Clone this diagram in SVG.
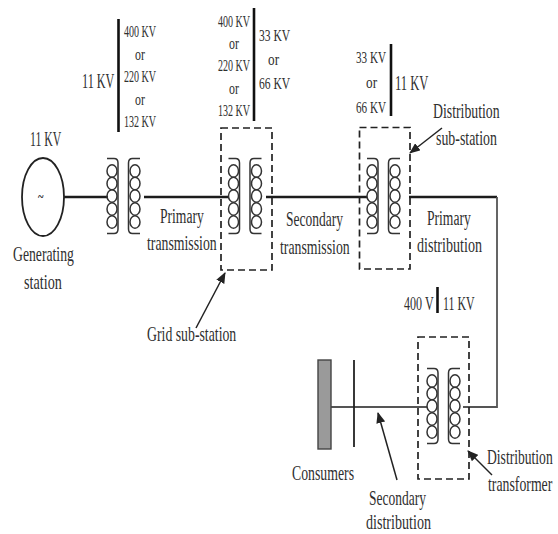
<svg xmlns="http://www.w3.org/2000/svg" width="558" height="534" viewBox="0 0 558 534">
<style>
text{font-family:"Liberation Serif","Times New Roman",serif;fill:#2f2f2f;font-size:20px;text-anchor:start}
.s{font-size:17px}
.m{font-size:18px}
.w{fill:none;stroke:#1c1c1c;stroke-width:2.4}
.g{fill:none;stroke:#555;stroke-width:1.8}
.bar{stroke:#111;stroke-width:2.6;fill:none}
.box{fill:none;stroke:#222;stroke-width:1.7;stroke-dasharray:7 4}
.c{fill:none;stroke:#333;stroke-width:1.5}
.a{fill:none;stroke:#222;stroke-width:1.5}
</style>
<defs>
<marker id="ah" markerWidth="11" markerHeight="9" refX="10" refY="4.5" orient="auto" markerUnits="userSpaceOnUse"><path d="M0,0L11,4.5L0,9z" fill="#222"/></marker>
<g id="coilL" class="c">
<path d="M107,158.500H114Q118,158.500 118,163V229Q118,233.500 114,233.500H107"/>
<ellipse cx="112" cy="171" rx="5" ry="6.200"/><ellipse cx="112" cy="183.500" rx="5" ry="6.200"/><ellipse cx="112" cy="196" rx="5" ry="6.200"/><ellipse cx="112" cy="209" rx="5" ry="6.200"/><ellipse cx="112" cy="222" rx="5" ry="6.200"/>
</g>
<g id="coilR" class="c">
<path d="M140,158.500H132.500Q128.500,158.500 128.500,163V229Q128.500,233.500 132.500,233.500H140"/>
<ellipse cx="135" cy="171" rx="5" ry="6.200"/><ellipse cx="135" cy="183.500" rx="5" ry="6.200"/><ellipse cx="135" cy="196" rx="5" ry="6.200"/><ellipse cx="135" cy="209" rx="5" ry="6.200"/><ellipse cx="135" cy="222" rx="5" ry="6.200"/>
</g>
</defs>

<g id="connectors">
<path class="w" d="M64,197H108"/>
<path class="w" d="M144,197H229"/>
<path class="w" d="M266,197H367"/>
<path class="w" d="M409,197H497"/>
<path class="g" d="M497,197V407H463"/>
<path class="g" d="M331,407H427"/>
<path class="a" marker-end="url(#ah)" d="M196,328L225,273"/>
<path class="a" marker-end="url(#ah)" d="M442,128L410,153"/>
<path class="a" marker-end="url(#ah)" d="M397,480L378,413"/>
<path class="a" marker-end="url(#ah)" d="M492,475L468,451"/>
</g>

<g id="generator">
<ellipse cx="43" cy="197" rx="21" ry="39" fill="#fff" stroke="#222" stroke-width="1.800"/>
<text transform="translate(38 202) scale(.75 1)" style="font-size:14px;font-weight:bold">~</text>
<text transform="translate(30 146) scale(.59 1)">11 KV</text>
<text transform="translate(13 261) scale(.686 1)">Generating</text>
<text transform="translate(24 289) scale(.71 1)">station</text>
</g>

<g id="step-up-transformer">
<use href="#coilL"/><use href="#coilR"/>
<path class="bar" d="M118.500,19V132"/>
<text transform="translate(82 88) scale(.61 1)">11 KV</text>
<text transform="translate(124 37) scale(.59 1)" class="s">400 KV</text>
<text transform="translate(135 60) scale(.7 1)" class="s">or</text>
<text transform="translate(124 82) scale(.59 1)" class="s">220 KV</text>
<text transform="translate(135 105) scale(.7 1)" class="s">or</text>
<text transform="translate(124 127) scale(.59 1)" class="s">132 KV</text>
<text transform="translate(160 223) scale(.68 1)">Primary</text>
<text transform="translate(147 250) scale(.69 1)">transmission</text>
</g>

<g id="grid-sub-station">
<rect class="box" x="221" y="128" width="51" height="142"/>
<use href="#coilL" x="121.500"/><use href="#coilR" x="121.500"/>
<path class="bar" d="M254,8V121"/>
<text transform="translate(218 27) scale(.59 1)" class="s">400 KV</text>
<text transform="translate(229 49) scale(.7 1)" class="s">or</text>
<text transform="translate(218 71) scale(.59 1)" class="s">220 KV</text>
<text transform="translate(229 94) scale(.7 1)" class="s">or</text>
<text transform="translate(218 116) scale(.59 1)" class="s">132 KV</text>
<text transform="translate(259 41) scale(.68 1)" class="s">33 KV</text>
<text transform="translate(268 65) scale(.78 1)" class="s">or</text>
<text transform="translate(259 89) scale(.68 1)" class="s">66 KV</text>
<text transform="translate(147 341) scale(.69 1)">Grid sub-station</text>
<text transform="translate(286 226) scale(.675 1)">Secondary</text>
<text transform="translate(280 254) scale(.69 1)">transmission</text>
</g>

<g id="distribution-sub-station">
<rect class="box" x="359.500" y="127.500" width="50.500" height="141.500"/>
<use href="#coilL" x="260"/><use href="#coilR" x="260"/>
<path class="bar" d="M391,44V116"/>
<text transform="translate(356 63) scale(.655 1)" class="s">33 KV</text>
<text transform="translate(366 88) scale(.78 1)" class="s">or</text>
<text transform="translate(356 113) scale(.655 1)" class="s">66 KV</text>
<text transform="translate(395 90) scale(.63 1)">11 KV</text>
<text transform="translate(433 118) scale(.69 1)">Distribution</text>
<text transform="translate(436 145) scale(.695 1)">sub-station</text>
<text transform="translate(427 225) scale(.68 1)">Primary</text>
<text transform="translate(417 252) scale(.705 1)">distribution</text>
</g>

<g id="distribution-transformer">
<rect class="box" x="418" y="337" width="51" height="142"/>
<use href="#coilL" x="320" y="210"/><use href="#coilR" x="320" y="210"/>
<path class="bar" d="M437.500,287V313"/>
<text transform="translate(404 310) scale(.67 1)" class="m">400 V</text>
<text transform="translate(443 310) scale(.66 1)" class="m">11 KV</text>
<text transform="translate(487 464) scale(.68 1)">Distribution</text>
<text transform="translate(488 491) scale(.69 1)">transformer</text>
</g>

<g id="consumers">
<rect x="318" y="360" width="13" height="89" fill="#9a9a9a" stroke="#444" stroke-width="1.400"/>
<path d="M354,360V447" stroke="#222" stroke-width="1.800" fill="none"/>
<text transform="translate(292 480) scale(.69 1)">Consumers</text>
<text transform="translate(369 505) scale(.675 1)">Secondary</text>
<text transform="translate(366 529) scale(.705 1)">distribution</text>
</g>
</svg>
